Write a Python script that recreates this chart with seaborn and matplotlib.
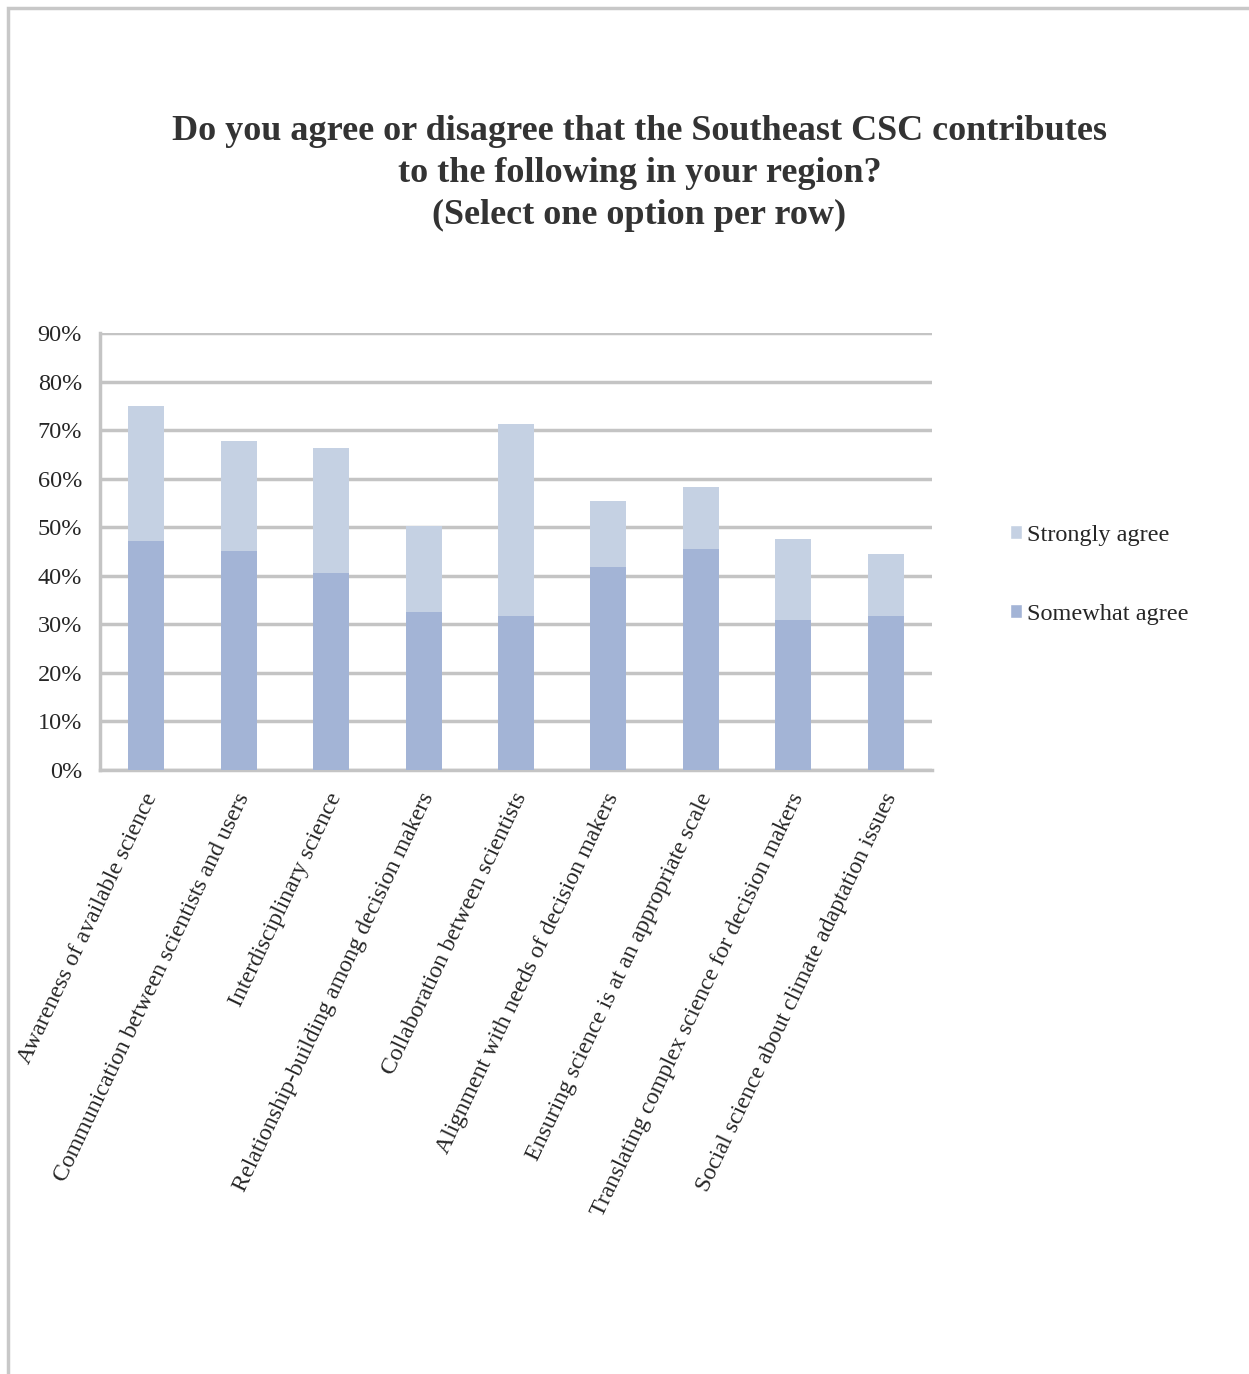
import matplotlib
matplotlib.use("Agg")
import matplotlib.pyplot as plt
from matplotlib.patches import Rectangle, Patch
import matplotlib.transforms as mtransforms
import numpy as np
import pandas as pd
import seaborn as sns

# Survey items and shares of respondents (percent)
categories = [
    "Awareness of available science",
    "Communication between scientists and users",
    "Interdisciplinary science",
    "Relationship-building among decision makers",
    "Collaboration between scientists",
    "Alignment with needs of decision makers",
    "Ensuring science is at an appropriate scale",
    "Translating complex science for decision makers",
    "Social science about climate adaptation issues",
]
somewhat_agree = [47.2, 45.2, 40.6, 32.6, 31.8, 41.8, 45.5, 30.9, 31.8]
strongly_agree = [27.8, 22.7, 25.7, 17.7, 39.5, 13.7, 12.9, 16.7, 12.8]
y_ticks = [0, 10, 20, 30, 40, 50, 60, 70, 80, 90]

title = ("Do you agree or disagree that the Southeast CSC contributes\n"
         "to the following in your region?\n"
         "(Select one option per row)")

COL_SOMEWHAT = "#A3B4D6"
COL_STRONG = "#C5D1E3"
GRID = "#C4C4C4"
TEXT = "#262626"
SERIF = ["Liberation Serif", "DejaVu Serif"]

sns.set_theme(style="white")
plt.rcParams["font.family"] = SERIF

df = pd.DataFrame({
    "item": categories,
    "somewhat": np.array(somewhat_agree) / 100,
    "total": (np.array(somewhat_agree) + np.array(strongly_agree)) / 100,
})

fig = plt.figure(figsize=(12.49, 13.74), dpi=100)
ax = fig.add_axes([0.0801, 0.4396, 0.666, 0.3178])

# Stacked bars: full height in the light colour, lower segment on top of it
sns.barplot(data=df, x="item", y="total", color=COL_STRONG, saturation=1,
            width=0.39, linewidth=0, ax=ax, zorder=3)
sns.barplot(data=df, x="item", y="somewhat", color=COL_SOMEWHAT, saturation=1,
            width=0.39, linewidth=0, ax=ax, zorder=4)

ax.set_xlim(-0.5, len(categories) - 0.5)
ax.set_ylim(0, 0.9)
ax.set_yticks(np.array(y_ticks) / 100)
ax.set_yticklabels([f"{v}%" for v in y_ticks], fontsize=17.5, color=TEXT)
ax.set_xlabel("")
ax.set_ylabel("")

# Category labels, rotated, right end anchored under each bar
ax.set_xticks(range(len(categories)))
ax.set_xticklabels(categories, rotation=64.5, ha="right", rotation_mode="anchor",
                   fontsize=17.2, color=TEXT)
ax.tick_params(axis="x", length=0, pad=14)
shift = mtransforms.ScaledTranslation(-4 / 100, 0, fig.dpi_scale_trans)
for lbl in ax.get_xticklabels():
    lbl.set_transform(lbl.get_transform() + shift)
# Tick marks between categories
ax.set_xticks(np.arange(-0.5, len(categories), 1.0), minor=True)
ax.tick_params(axis="x", which="minor", length=7, width=2, color=GRID,
               direction="out")
ax.tick_params(axis="y", length=7, width=2, color=GRID, direction="out", pad=6)

ax.yaxis.grid(True, color=GRID, linewidth=2.5, zorder=0)
ax.set_axisbelow(True)
for side in ("top", "right"):
    ax.spines[side].set_visible(False)
for side in ("left", "bottom"):
    ax.spines[side].set_color(GRID)
    ax.spines[side].set_linewidth(2.5)

# Legend on the right
handles = [Patch(facecolor=COL_STRONG, label="Strongly agree"),
           Patch(facecolor=COL_SOMEWHAT, label="Somewhat agree")]
ax.legend(handles=handles, loc="center left", bbox_to_anchor=(1.068, 0.447),
          frameon=False, fontsize=17.5, labelspacing=2.4, handlelength=0.5,
          handleheight=0.5, handletextpad=0.2, labelcolor=TEXT)

fig.text(0.512, 0.916, title, ha="center", va="top", fontsize=26,
         fontweight="bold", color="#333333", linespacing=1.36)

# Chart frame
fig.patches.append(Rectangle((8 / 1249, -0.02), 1.05, 1 - 8 / 1374 + 0.02,
                             transform=fig.transFigure, fill=False,
                             edgecolor="#C8C8C8", linewidth=2.5))

fig.savefig("out.png", dpi=100, facecolor="white")
